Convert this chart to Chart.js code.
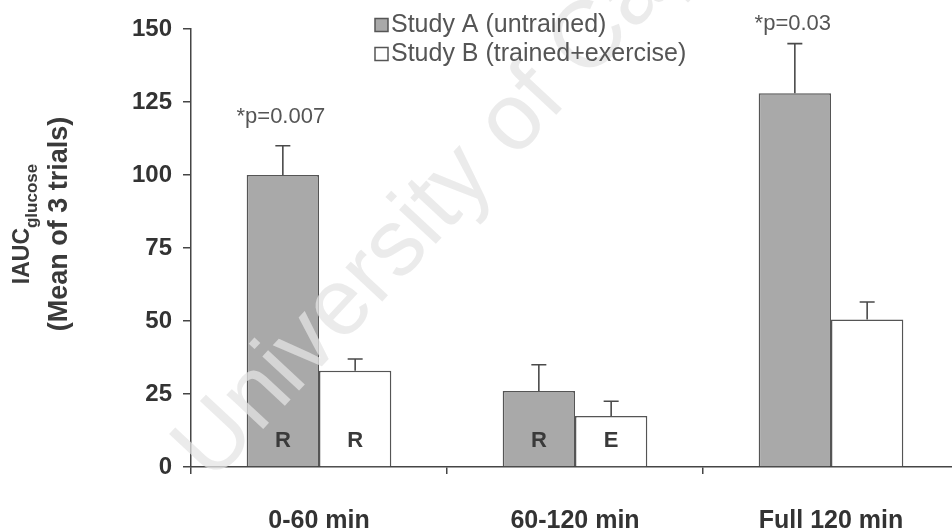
<!DOCTYPE html>
<html>
<head>
<meta charset="utf-8">
<script src="https://cdn.jsdelivr.net/npm/chart.js@4.4.1/dist/chart.umd.min.js"></script>
<style>
  html, body { margin: 0; padding: 0; background: #fff; overflow: hidden; }
  #wrap { width: 960px; height: 531px; }
</style>
</head>
<body>
<div id="wrap"><canvas id="chart" width="960" height="531"></canvas></div>
<script>
const categories = ["0-60 min", "60-120 min", "Full 120 min"];
const studyA = [100, 26, 128];
const studyAErr = [10, 9, 17];
const studyB = [33, 17.5, 50.5];
const studyBErr = [4, 5, 6];
const tagsA = ["R", "R", ""];
const tagsB = ["R", "E", ""];
const pNotes = ["*p=0.007", "", "*p=0.03"];
const seriesNames = ["Study A (untrained)", "Study B (trained+exercise)"];

const INK = "#454545";
const GREY = "#a9a9a9";
const FONT = "'Liberation Sans', Arial, sans-serif";

// upper-only error whiskers with a short cap
const errorBars = {
  id: "errorBars",
  afterDatasetsDraw(chart) {
    const { ctx, scales: { y } } = chart;
    ctx.save();
    ctx.strokeStyle = "#4a4a4a"; ctx.lineWidth = 1.6;
    chart.data.datasets.forEach((ds, di) => {
      chart.getDatasetMeta(di).data.forEach((bar, i) => {
        const top = y.getPixelForValue(ds.data[i] + ds.errors[i]);
        ctx.beginPath();
        ctx.moveTo(bar.x, bar.y); ctx.lineTo(bar.x, top);
        ctx.moveTo(bar.x - 7.5, top); ctx.lineTo(bar.x + 7.5, top);
        ctx.stroke();
      });
    });
    ctx.restore();
  }
};

// faint diagonal stamp across the plot
const stamp = {
  id: "stamp",
  afterDatasetsDraw(chart) {
    const { ctx } = chart;
    ctx.save();
    ctx.translate(212, 484);
    ctx.rotate(-47 * Math.PI / 180);
    ctx.font = "95px " + FONT;
    ctx.fillStyle = "rgba(228,228,228,0.75)";
    ctx.textBaseline = "alphabetic";
    ctx.fillText("University of Cape Town", 0, 0);
    ctx.restore();
  }
};

// bar tags, p-value notes, legend and y title
const decorations = {
  id: "decorations",
  afterDraw(chart) {
    const { ctx, chartArea, scales: { y } } = chart;
    const metaA = chart.getDatasetMeta(0), metaB = chart.getDatasetMeta(1);
    ctx.save();
    ctx.fillStyle = "#3a3a3a";
    ctx.textAlign = "center"; ctx.textBaseline = "middle";

    ctx.font = "bold 22px " + FONT;
    metaA.data.forEach((b, i) => { if (tagsA[i]) ctx.fillText(tagsA[i], b.x, chartArea.bottom - 26); });
    metaB.data.forEach((b, i) => { if (tagsB[i]) ctx.fillText(tagsB[i], b.x, chartArea.bottom - 26); });

    ctx.font = "22px " + FONT;
    ctx.fillStyle = "#555";
    metaA.data.forEach((b, i) => {
      if (!pNotes[i]) return;
      const top = y.getPixelForValue(studyA[i] + studyAErr[i]);
      ctx.fillText(pNotes[i], b.x - 2, Math.max(top - 29, chartArea.top - 5));
    });

    // legend
    const lx = 375, rows = [25, 54];
    ctx.font = "25px " + FONT;
    ctx.textAlign = "left";
    chart.data.datasets.forEach((ds, di) => {
      ctx.fillStyle = ds.backgroundColor;
      ctx.strokeStyle = "#555"; ctx.lineWidth = 1.5;
      ctx.fillRect(lx, rows[di] - 6.5, 13, 13);
      ctx.strokeRect(lx, rows[di] - 6.5, 13, 13);
      ctx.fillStyle = "#555";
      ctx.fillText(seriesNames[di], lx + 16, rows[di]);
    });

    // rotated axis title with subscript
    ctx.fillStyle = "#3a3a3a";
    ctx.translate(0, 224);
    ctx.rotate(-Math.PI / 2);
    ctx.textBaseline = "alphabetic";
    const main = "IAUC", sub = "glucose";
    ctx.font = "bold 23px " + FONT;
    const w1 = ctx.measureText(main).width;
    ctx.font = "bold 17px " + FONT;
    const w2 = ctx.measureText(sub).width;
    const x0 = -(w1 + w2) / 2;
    ctx.font = "bold 23px " + FONT;
    ctx.fillText(main, x0, 29);
    ctx.font = "bold 17px " + FONT;
    ctx.fillText(sub, x0 + w1, 37);
    ctx.font = "bold 27px " + FONT;
    ctx.textAlign = "center";
    ctx.fillText("(Mean of 3 trials)", 0, 67);
    ctx.restore();
  }
};

new Chart(document.getElementById("chart"), {
  type: "bar",
  data: {
    labels: categories,
    datasets: [
      { label: seriesNames[0], data: studyA, errors: studyAErr, backgroundColor: GREY, borderColor: "#555", borderWidth: 1.5 },
      { label: seriesNames[1], data: studyB, errors: studyBErr, backgroundColor: "#ffffff", borderColor: "#555", borderWidth: 1.5 }
    ]
  },
  options: {
    responsive: false,
    animation: false,
    devicePixelRatio: 1,
    layout: { padding: { top: 29, left: 0, right: 1, bottom: 0 } },
    datasets: { bar: { categoryPercentage: 0.565, barPercentage: 1.0 } },
    plugins: { legend: { display: false }, tooltip: { enabled: false } },
    scales: {
      x: {
        afterFit: (s) => { s.height = 64; },
        grid: { offset: true, drawOnChartArea: false, drawTicks: true, tickLength: 7, color: INK, lineWidth: 1.5 },
        border: { display: true, color: INK, width: 1.5 },
        ticks: { color: "#333", padding: 32, font: { family: FONT, size: 25, weight: "bold" } }
      },
      y: {
        min: 0, max: 150,
        afterFit: (s) => { s.width = 191; },
        grid: { drawOnChartArea: false, drawTicks: true, tickLength: 8, color: INK, lineWidth: 1.5 },
        border: { display: true, color: INK, width: 1.5 },
        ticks: { stepSize: 25, color: "#333", padding: 11, font: { family: FONT, size: 24, weight: "bold" } }
      }
    }
  },
  plugins: [errorBars, stamp, decorations]
});
</script>
</body>
</html>
